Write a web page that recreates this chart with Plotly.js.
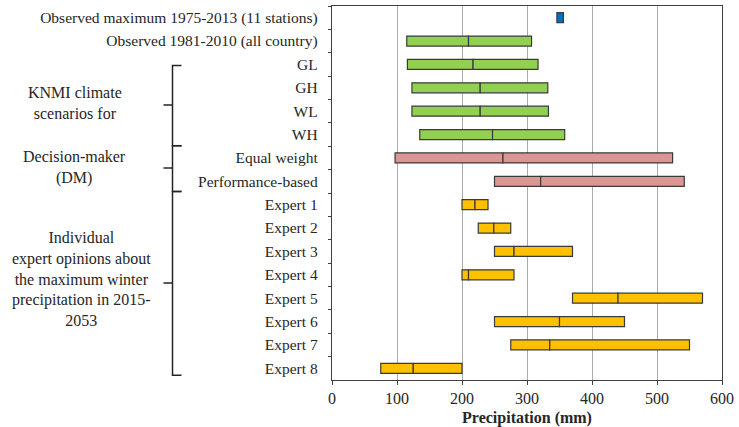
<!DOCTYPE html>
<html>
<head>
<meta charset="utf-8">
<script src="https://cdn.plot.ly/plotly-3.0.1.min.js"></script>
<style>html,body{margin:0;padding:0;background:#fff;}#chart{width:739px;height:427px;}</style>
</head>
<body>
<div id="chart"></div>
<script>
// ---- data ----
const categories = [
  "Observed maximum 1975-2013 (11 stations)",
  "Observed 1981-2010 (all country)",
  "GL", "GH", "WL", "WH",
  "Equal weight", "Performance-based",
  "Expert 1", "Expert 2", "Expert 3", "Expert 4",
  "Expert 5", "Expert 6", "Expert 7", "Expert 8"
];
const lowValues    = [346, 115, 116, 123, 123, 135,  97, 250, 200, 225, 250, 200, 370, 250, 275,  75];
const medianValues = [null, 210, 217, 228, 228, 247, 263, 321, 220, 249, 280, 210, 440, 350, 335, 125];
const highValues   = [356, 307, 317, 332, 333, 358, 524, 542, 240, 275, 370, 280, 570, 450, 550, 200];
const groups = ["obsmax","obs","knmi","knmi","knmi","knmi","dm","dm",
  "expert","expert","expert","expert","expert","expert","expert","expert"];
const xTickValues = [0, 100, 200, 300, 400, 500, 600];

// ---- styles ----
const fillColors = {obsmax:"#0070C0", obs:"#92D050", knmi:"#92D050", dm:"#D99694", expert:"#FFC000"};
const colors = groups.map(g => fillColors[g]);

const seg1 = lowValues.map((lo,i) => (medianValues[i] === null ? highValues[i] : medianValues[i]) - lo);
const seg2 = highValues.map((hi,i) => medianValues[i] === null ? null : hi - medianValues[i]);
const base2 = medianValues.map(m => m);

const fontFam = 'Liberation Serif, Times New Roman, serif';
const txtColor = '#262626';

const common = {type:'bar', orientation:'h', y:categories, width:0.43,
  marker:{color:colors, line:{color:'#3a3a3a', width:1.2}}, hoverinfo:'skip', showlegend:false};

const traces = [
  Object.assign({}, common, {x:seg1, base:lowValues}),
  Object.assign({}, common, {x:seg2, base:base2})
];

// plot geometry (px) for brackets and side labels
const L = 332, R = 17, T = 6, B = 47, W = 739, H = 427;
const pw = W - L - R, ph = H - T - B;
const px = v => (v - L) / pw;
const py = v => (H - B - v) / ph;
const rowY = idx => 1 - (idx + 0.5) / categories.length;

function bracket(top, bot, mid) {
  const xv = px(172.5), xh = px(181.5), xn = px(163.5);
  const yt = rowY(top), yb = rowY(bot), ym = rowY(mid);
  return {type:'path', xref:'paper', yref:'paper',
    path:`M ${xh},${yt} L ${xv},${yt} L ${xv},${ym} L ${xn},${ym} L ${xv},${ym} L ${xv},${yb} L ${xh},${yb}`,
    line:{color:'#262626', width:1.5}};
}

const shapes = [
  bracket(2.05, 5.48, 3.74),
  bracket(5.48, 7.44, 6.43),
  bracket(7.44, 15.3, 11.35)
];

const annFont = {family:fontFam, size:16, color:txtColor};
const annotations = [
  {text:"KNMI climate<br>scenarios for", x:px(75), y:py(102.5)},
  {text:"Decision-maker<br>(DM)", x:px(74.5), y:py(168)},
  {text:"Individual<br>expert opinions about<br>the maximum winter<br>precipitation in 2015-<br>2053", x:px(81.5), y:py(279)}
];
annotations.forEach(a => Object.assign(a, {xref:'paper', yref:'paper', xanchor:'center', yanchor:'middle',
  align:'center', showarrow:false, font:annFont}));

const layout = {
  width:W, height:H,
  margin:{l:L, r:R, t:T, b:B, pad:0},
  paper_bgcolor:'#fff', plot_bgcolor:'#fff',
  barmode:'overlay',
  font:{family:fontFam, color:txtColor, size:16},
  xaxis:{range:[0,600], tickvals:xTickValues, ticktext:xTickValues.map(String),
    ticks:'outside', ticklen:4, tickcolor:'#404040', showgrid:true, gridcolor:'#ABABAB', gridwidth:1,
    showline:true, linecolor:'#404040', linewidth:1.2, mirror:true, zeroline:false,
    tickfont:{family:fontFam, size:16, color:txtColor},
    title:{text:'<b>Precipitation (mm)</b>', font:{family:fontFam, size:16, color:txtColor}, standoff:6}},
  yaxis:{type:'category', categoryorder:'array', categoryarray:categories, autorange:'reversed',
    ticks:'outside', tickson:'boundaries', ticklen:3, tickcolor:'#404040', showgrid:false,
    showline:true, linecolor:'#404040', linewidth:1.2, mirror:true, zeroline:false,
    ticklabelstandoff:10,
    tickfont:{family:fontFam, size:15.5, color:txtColor}},
  shapes:shapes,
  annotations:annotations
};

Plotly.newPlot('chart', traces, layout, {staticPlot:true, displayModeBar:false});
</script>
</body>
</html>
